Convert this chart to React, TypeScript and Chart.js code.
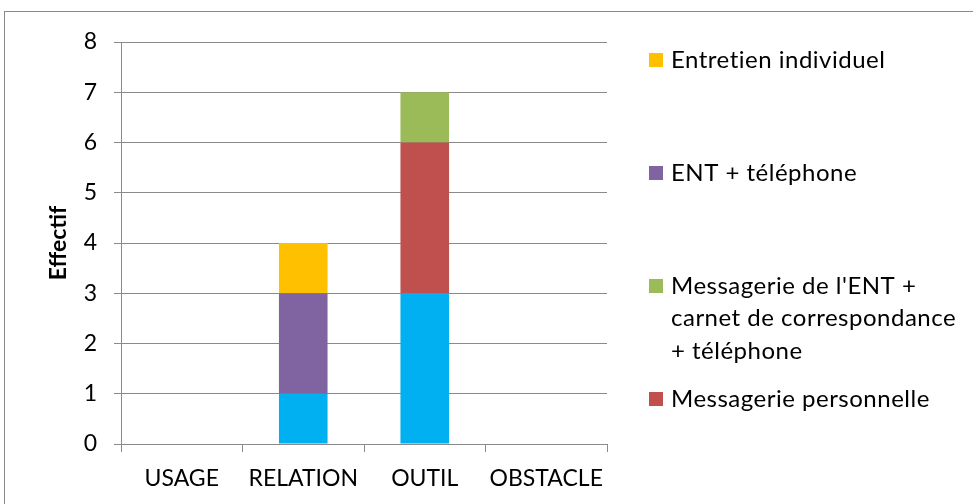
import React, { useEffect, useRef } from "react";
import { Chart, registerables } from "chart.js";

Chart.register(...registerables);

const categories = ["USAGE", "RELATION", "OUTIL", "OBSTACLE"];

const seriesLabels = [
  "Messagerie de l'ENT",
  "Messagerie personnelle",
  "Messagerie de l'ENT +\ncarnet de correspondance\n+ téléphone",
  "ENT + téléphone",
  "Entretien individuel",
];
const seriesColors = ["#00B0F0", "#C0504D", "#9BBB59", "#8064A2", "#FFC000"];

const messagerieEntValues = [0, 1, 3, 0];
const messageriePersoValues = [0, 0, 3, 0];
const entCarnetTelValues = [0, 0, 1, 0];
const entTelValues = [0, 2, 0, 0];
const entretienValues = [0, 1, 0, 0];

const seriesValues = [
  messagerieEntValues,
  messageriePersoValues,
  entCarnetTelValues,
  entTelValues,
  entretienValues,
];

const yMin = 0;
const yMax = 8;
const yStep = 1;
const yTitle = "Effectif";

const FONT = "Lato, 'Open Sans', sans-serif";
const GRID = "#8a8a8a";

const sideLegend = {
  id: "sideLegend",
  afterDraw(chart: any) {
    const ctx = chart.ctx as any;
    ctx.save();
    // outer frame
    ctx.strokeStyle = "#8a8a8a";
    ctx.lineWidth = 1;
    ctx.strokeRect(4.5, 11.5, chart.width + 20, chart.height + 20);

    const area = chart.chartArea;
    const ds = chart.data.datasets.slice().reverse();
    const boxX = area.right + 42;
    const textX = area.right + 64;
    const firstY = area.top + 18;
    const slot = 113;
    const lineH = 32.5;
    ctx.font = `24px ${FONT}`;
    if ("letterSpacing" in ctx) ctx.letterSpacing = "0.5px";
    ctx.textBaseline = "middle";
    ctx.textAlign = "left";
    ds.forEach((d: any, i: number) => {
      const cy = firstY + i * slot;
      const lines = String(d.label).split("\n");
      // like Excel, drop entries that do not fit in the legend box
      if (cy + (lines.length - 1) * lineH + 14 > chart.height) return;
      ctx.fillStyle = d.backgroundColor;
      ctx.fillRect(boxX, cy - 7, 14, 14);
      ctx.fillStyle = "#000000";
      lines.forEach((line: string, k: number) => {
        ctx.fillText(line, textX, cy + k * lineH);
      });
    });
    ctx.restore();
  },
};

export default function App() {
  const ref = useRef<HTMLCanvasElement | null>(null);

  useEffect(() => {
    if (!ref.current) return;
    const chart = new Chart(ref.current, {
      type: "bar",
      data: {
        labels: categories,
        datasets: seriesValues.map((vals, i) => ({
          label: seriesLabels[i],
          data: vals,
          backgroundColor: seriesColors[i],
          borderWidth: 0,
          categoryPercentage: 1,
          barPercentage: 0.4,
        })),
      },
      options: {
        responsive: false,
        animation: false,
        layout: { padding: { top: 42, right: 366, left: 0, bottom: 0 } },
        plugins: {
          legend: { display: false },
          tooltip: { enabled: false },
        },
        scales: {
          x: {
            stacked: true,
            grid: {
              display: true,
              drawOnChartArea: false,
              drawTicks: true,
              tickLength: 8,
              color: GRID,
              offset: true,
            },
            border: { display: true, color: GRID, width: 1 },
            ticks: {
              color: "#000000",
              font: { family: FONT, size: 23 },
              padding: 13,
              maxRotation: 0,
            },
            afterFit: (s: any) => {
              s.height = 60;
            },
          },
          y: {
            stacked: true,
            min: yMin,
            max: yMax,
            ticks: {
              stepSize: yStep,
              color: "#000000",
              font: { family: FONT, size: 23 },
              padding: 17,
            },
            grid: {
              color: GRID,
              tickLength: 7,
              drawTicks: true,
            },
            border: { display: true, color: GRID, width: 1 },
            title: {
              display: true,
              text: yTitle,
              color: "#000000",
              font: { family: FONT, size: 23, weight: "bold" },
              padding: { top: 45, bottom: 0 },
            },
            afterFit: (s: any) => {
              s.width = 121;
            },
          },
        },
      },
      plugins: [sideLegend],
    });
    return () => chart.destroy();
  }, []);

  return (
    <div
      style={{
        position: "absolute",
        left: 0,
        top: 0,
        width: 973,
        height: 504,
        overflow: "hidden",
        background: "#ffffff",
      }}
    >
      <canvas ref={ref} width={973} height={504} />
    </div>
  );
}
